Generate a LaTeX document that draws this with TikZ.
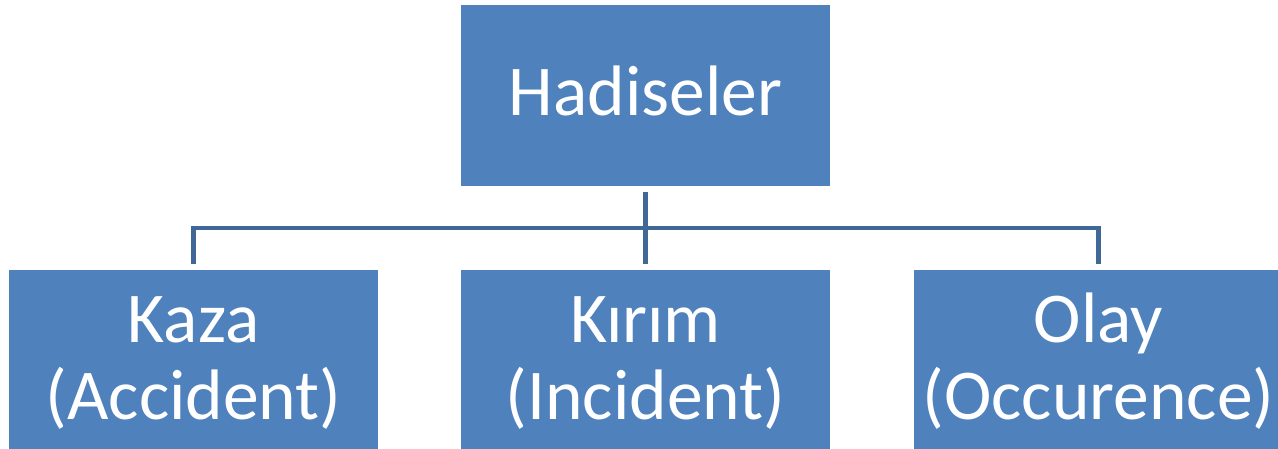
\documentclass[tikz,border=0pt]{standalone}
\usepackage{fontspec}
\setmainfont{Carlito}
\definecolor{boxfill}{RGB}{79,129,189}
\definecolor{linecol}{RGB}{63,103,151}
\newcommand{\lnstrut}{\rule[-10pt]{0pt}{60pt}}
\begin{document}
\begin{tikzpicture}[x=1pt,y=-1pt,
  box/.style={rectangle,fill=boxfill,draw=none,minimum width=369pt,minimum height=181pt,inner sep=0pt,
    text=white,align=center,font=\fontsize{71.5}{77}\selectfont},
  conn/.style={draw=linecol,line width=4.5pt}]
\useasboundingbox (0,0) rectangle (1278,449);
\clip (0,0) rectangle (1278,449);
\node[box] (top) at (645.5,95.5) {\lnstrut Hadiseler};
\node[box] (left) at (193.5,360.5) {\lnstrut Kaza\\\lnstrut (Accident)};
\node[box] (mid) at (645.5,360.5) {\lnstrut Kırım\\\lnstrut (Incident)};
\node[box] (right) at (1098.5,360.5) {\lnstrut Olay\\\lnstrut (Occurence)};
\coordinate (hubl) at (193.5,228);
\coordinate (hubr) at (1098.5,228);
\draw[conn] ([yshift=-6pt]top.south) -- ([yshift=6pt]mid.north);
\draw[conn] ([yshift=6pt]left.north) -- (hubl) -- (hubr) -- ([yshift=6pt]right.north);
\end{tikzpicture}
\end{document}
